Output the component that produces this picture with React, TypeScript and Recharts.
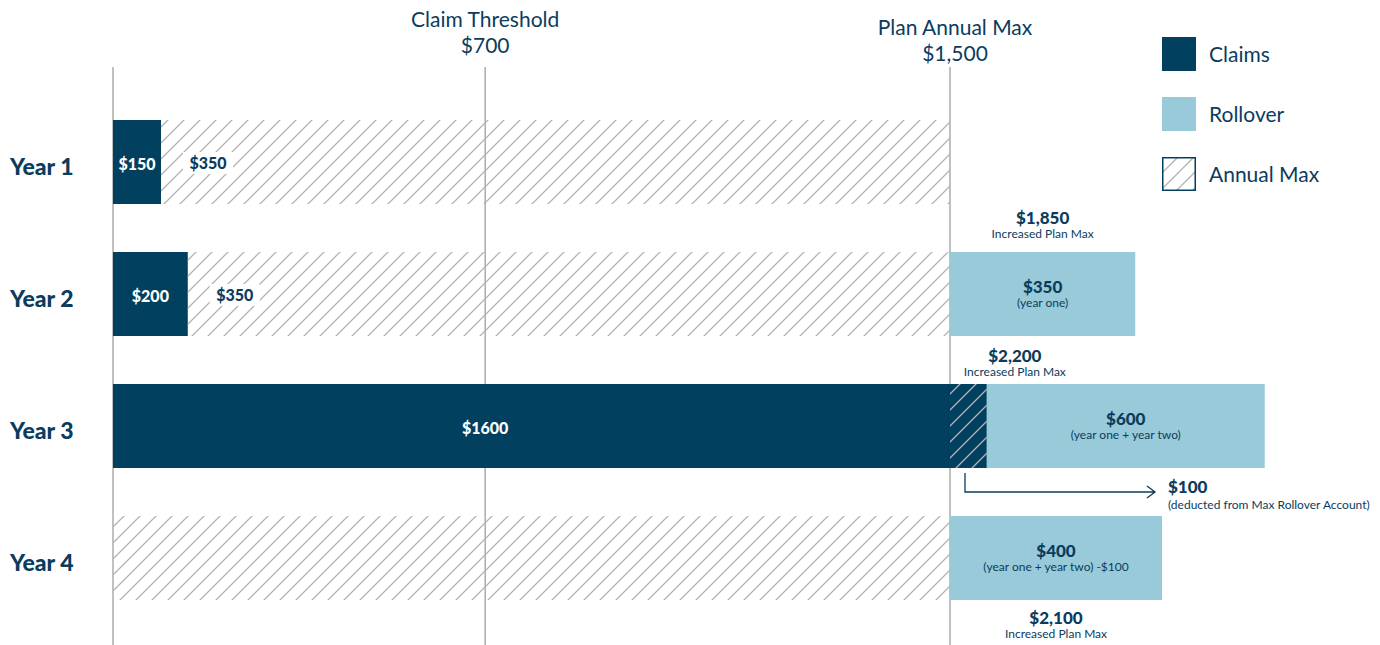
import React from 'react';
import { BarChart, Bar, XAxis, YAxis, CartesianGrid } from 'recharts';

// ---------- data ----------
const years = ['Year 1', 'Year 2', 'Year 3', 'Year 4'];
// schematic bar lengths in chart units (Plan Annual Max bar = 1500)
const claims = [86, 134, 1500, 0];
const annualMaxRemaining = [1414, 1366, 0, 1500];
const overage = [0, 0, 66, 0];
const rollover = [0, 332, 498, 380];

const claimLabels = ['$150', '$200', '$1600', ''];
const remainingLabels = ['$350', '$350', '', ''];
const rolloverLabels = ['', '$350', '$600', '$400'];
const rolloverNotes = ['', '(year one)', '(year one + year two)', '(year one + year two) -$100'];
const planMaxLabels = ['', '$1,850', '$2,200', '$2,100'];
const planMaxNote = 'Increased Plan Max';
const overageLabel = '$100';
const overageNote = '(deducted from Max Rollover Account)';

const markerValues = [0, 667, 1500];
const markerTitles = ['', 'Claim Threshold', 'Plan Annual Max'];
const markerAmounts = ['', '$700', '$1,500'];

const legendLabels = ['Claims', 'Rollover', 'Annual Max'];

const chartData = years.map((year, i) => ({
  year,
  claims: claims[i],
  remaining: annualMaxRemaining[i],
  overage: overage[i],
  rollover: rollover[i],
}));

// ---------- styles ----------
const NAVY = '#02405f';
const LIGHT = '#98cad9';
const TEXT = '#0b3c5d';
const HATCH = '#b3b3b3';
const GRID = '#ababab';
const FONT = 'Lato, "Open Sans", sans-serif';

// header label placement per marker
const headerShift = [0, 0, 8];
const headerDx = [0, 0, 5];
// plan-max annotation placement per row
const planMaxPlace: any[] = [
  null,
  { side: 'above', dy: -34, align: 'center' },
  { side: 'above', dy: -28, align: 'start', dx: 28 },
  { side: 'below', dy: 18, align: 'center' },
];

function T(props: any) {
  const { x, cy, size, weight = 400, fill = TEXT, anchor = 'middle', children } = props;
  return (
    <text
      x={x}
      y={cy + size * 0.36}
      fontSize={size}
      fontWeight={weight}
      fill={fill}
      textAnchor={anchor}
      fontFamily={FONT}
    >
      {children}
    </text>
  );
}

const idxOf = (p: any) =>
  typeof p.index === 'number' ? p.index : years.indexOf(p.payload?.year);

function ClaimsShape(p: any) {
  const { x, y, width, height } = p;
  const i = idxOf(p);
  if (!width || width <= 0) return <g />;
  const ratio = Math.min(0.5, markerValues[1] / claims[i]);
  return (
    <g>
      <rect x={x} y={y} width={width} height={height} fill={NAVY} />
      {claimLabels[i] ? (
        <T x={x + width * ratio} cy={y + height / 2 + 2} size={16} weight={900} fill="#ffffff">
          {claimLabels[i]}
        </T>
      ) : null}
    </g>
  );
}

function RemainingShape(p: any) {
  const { x, y, width, height } = p;
  const i = idxOf(p);
  if (!width || width <= 0) return <g />;
  const cy = y + height / 2;
  return (
    <g>
      <rect x={x} y={y} width={width} height={height} fill="url(#hatch)" />
      {remainingLabels[i] ? (
        <g>
          <rect x={x + 22} y={cy - 10} width={50} height={22} fill="#ffffff" />
          <T x={x + 47} cy={cy + 1} size={16} weight={900}>
            {remainingLabels[i]}
          </T>
        </g>
      ) : null}
    </g>
  );
}

function OverageShape(p: any) {
  const { x, y, width, height } = p;
  if (!width || width <= 0) return <g />;
  const bottom = y + height;
  const ax = x + 15;
  const ay = bottom + 24;
  const ex = x + 205;
  return (
    <g>
      <rect x={x} y={y} width={width} height={height} fill={NAVY} />
      <rect x={x} y={y} width={width} height={height} fill="url(#hatch)" />
      <path
        d={`M${ax},${bottom + 5} V${ay} H${ex} M${ex - 8},${ay - 6} L${ex},${ay} L${ex - 8},${ay + 6}`}
        fill="none"
        stroke={TEXT}
        strokeWidth={1.3}
      />
      <T x={x + 218} cy={ay - 5} size={17} weight={900} anchor="start">
        {overageLabel}
      </T>
      <T x={x + 218} cy={ay + 13} size={12} anchor="start">
        {overageNote}
      </T>
    </g>
  );
}

function RolloverShape(p: any) {
  const { x, y, width, height } = p;
  const i = idxOf(p);
  if (!width || width <= 0) return <g />;
  const cx = x + width / 2;
  const cy = y + height / 2;
  const place = planMaxPlace[i];
  let ann = null;
  if (place && planMaxLabels[i]) {
    const ax = place.align === 'center' ? cx : x + place.dx;
    const base = place.side === 'above' ? y + place.dy : y + height + place.dy;
    ann = (
      <g>
        <T x={ax} cy={base} size={17} weight={900}>
          {planMaxLabels[i]}
        </T>
        <T x={ax} cy={base + 16} size={12}>
          {planMaxNote}
        </T>
      </g>
    );
  }
  return (
    <g>
      <rect x={x} y={y} width={width} height={height} fill={LIGHT} />
      {rolloverLabels[i] ? (
        <T x={cx} cy={cy - 7} size={17} weight={900}>
          {rolloverLabels[i]}
        </T>
      ) : null}
      {rolloverNotes[i] ? (
        <T x={cx} cy={cy + 9} size={12}>
          {rolloverNotes[i]}
        </T>
      ) : null}
      {ann}
    </g>
  );
}

function HeaderTick(p: any) {
  const { x, payload } = p;
  const i = markerValues.indexOf(payload.value);
  if (i <= 0) return <g />;
  const sh = headerShift[i];
  const tx = x + headerDx[i];
  return (
    <g>
      <T x={tx} cy={19 + sh} size={21}>
        {markerTitles[i]}
      </T>
      <T x={tx} cy={45 + sh} size={21}>
        {markerAmounts[i]}
      </T>
    </g>
  );
}

function YearTick(p: any) {
  const { y, payload } = p;
  return (
    <T x={10} cy={y + 5} size={23} weight={900} anchor="start">
      {payload.value}
    </T>
  );
}

function LegendBox() {
  const swatch = (i: number) => {
    if (i === 0) return <rect x={0} y={0} width={34} height={34} fill={NAVY} />;
    if (i === 1) return <rect x={0} y={0} width={34} height={34} fill={LIGHT} />;
    return (
      <g>
        <rect x={0.75} y={0.75} width={32.5} height={32.5} fill="url(#hatchLegend)" stroke={NAVY} strokeWidth={1.5} />
      </g>
    );
  };
  return (
    <div style={{ position: 'absolute', left: 1162, top: 37 }}>
      {legendLabels.map((label, i) => (
        <div
          key={label}
          style={{ position: 'absolute', left: 0, top: i * 60, width: 220, height: 34 }}
        >
          <svg width={34} height={34} style={{ position: 'absolute', left: 0, top: 0 }}>
            <defs>
              <pattern id="hatchLegend" patternUnits="userSpaceOnUse" width={16} height={16}>
                <path d="M-4,4 L4,-4 M0,16 L16,0 M12,20 L20,12" stroke={HATCH} strokeWidth={1.3} />
              </pattern>
            </defs>
            {swatch(i)}
          </svg>
          <div
            style={{
              position: 'absolute',
              left: 47,
              top: 0,
              height: 34,
              lineHeight: '34px',
              fontSize: 21,
              color: TEXT,
              fontFamily: FONT,
              whiteSpace: 'nowrap',
            }}
          >
            {label}
          </div>
        </div>
      ))}
    </div>
  );
}

export default function App() {
  return (
    <div style={{ position: 'absolute', left: 0, top: 0, width: 1380, height: 645, background: '#fff', overflow: 'hidden' }}>
      <BarChart
        width={1380}
        height={645}
        data={chartData}
        layout="vertical"
        margin={{ top: 0, right: -72.2, bottom: 0, left: 0 }}
      >
        <defs>
          <pattern id="hatch" patternUnits="userSpaceOnUse" width={16} height={16}>
            <path d="M-4,4 L4,-4 M0,16 L16,0 M12,20 L20,12" stroke={HATCH} strokeWidth={1.3} />
          </pattern>
        </defs>
        <CartesianGrid horizontal={false} vertical stroke={GRID} strokeWidth={1.5} />
        <XAxis
          type="number"
          orientation="top"
          domain={[0, 2400]}
          ticks={markerValues}
          interval={0}
          height={67}
          axisLine={false}
          tickLine={false}
          tick={HeaderTick}
        />
        <YAxis
          type="category"
          dataKey="year"
          width={113}
          axisLine={false}
          tickLine={false}
          tick={YearTick}
          padding={{ top: 29, bottom: 21 }}
        />
        <Bar dataKey="claims" stackId="a" barSize={84} isAnimationActive={false} shape={ClaimsShape} />
        <Bar dataKey="remaining" stackId="a" barSize={84} isAnimationActive={false} shape={RemainingShape} />
        <Bar dataKey="overage" stackId="a" barSize={84} isAnimationActive={false} shape={OverageShape} />
        <Bar dataKey="rollover" stackId="a" barSize={84} isAnimationActive={false} shape={RolloverShape} />
      </BarChart>
      <LegendBox />
    </div>
  );
}
